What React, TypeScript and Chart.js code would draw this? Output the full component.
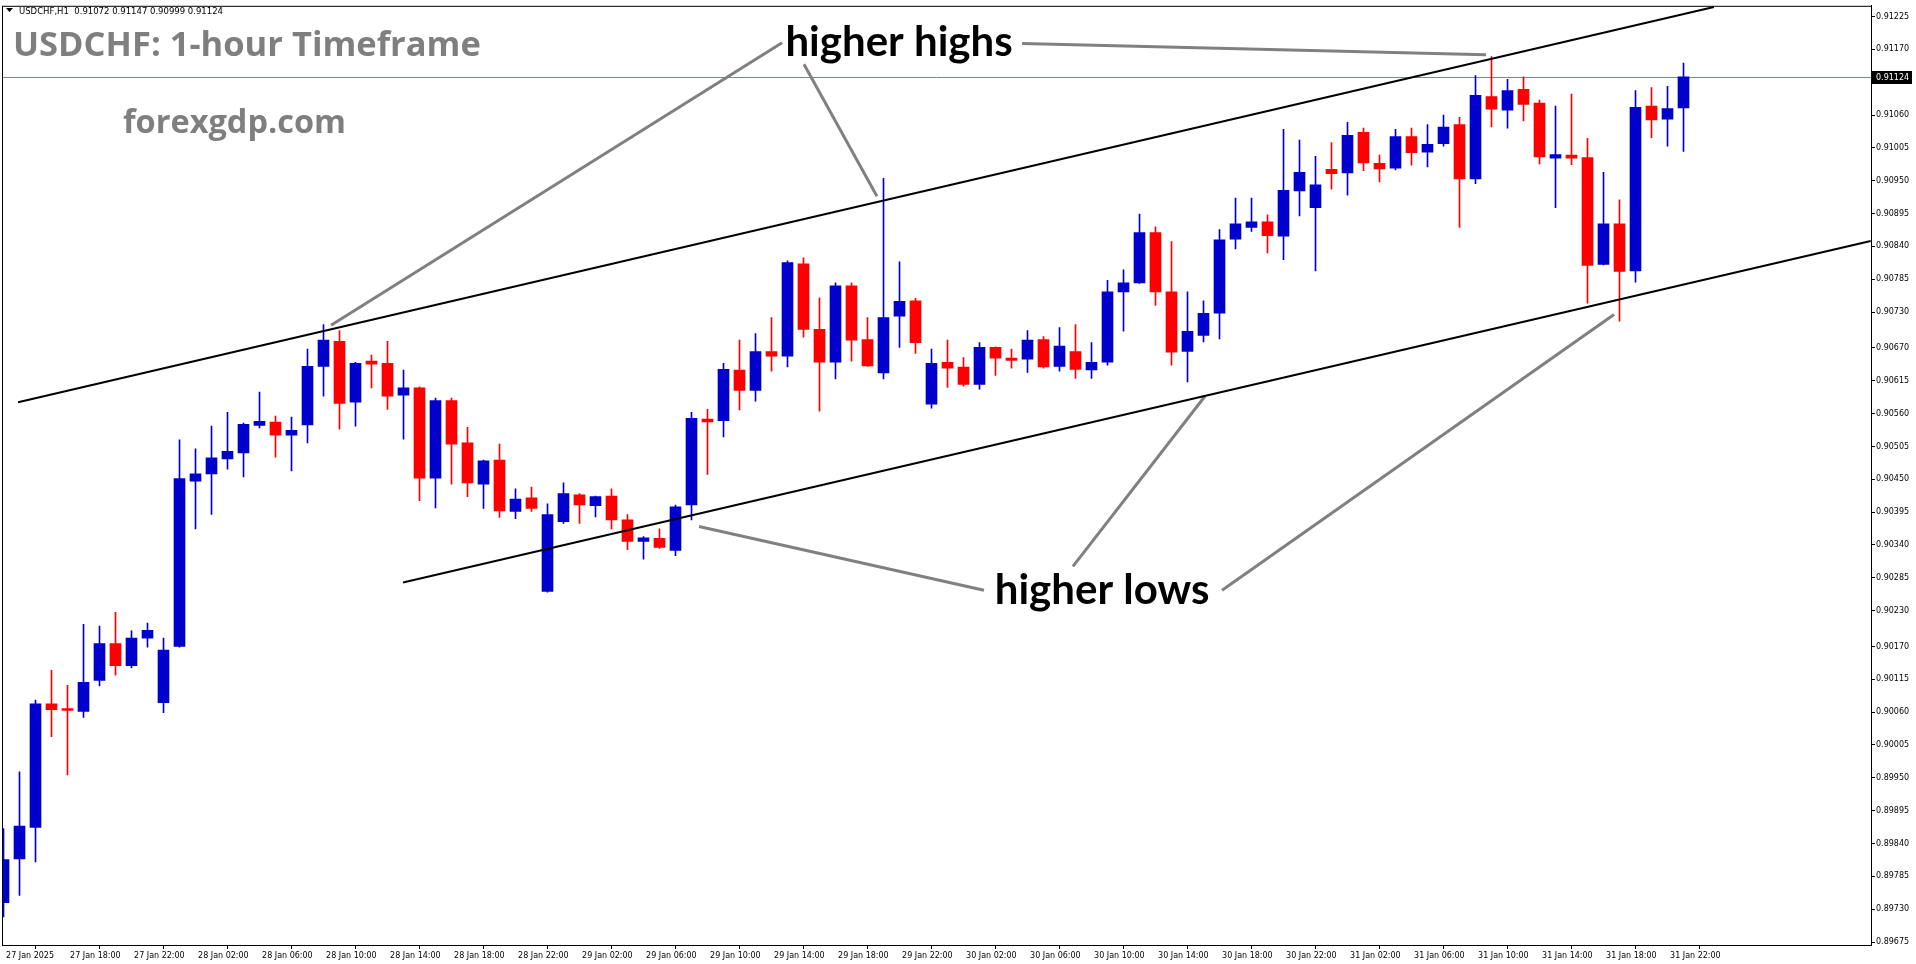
import React, { useEffect, useRef } from "react";
import { Chart, registerables } from "chart.js";

Chart.register(...registerables);

// USDCHF H1 candles, 27 Jan 2025 14:00 -> 31 Jan 2025 23:00 (index = hour offset)
const opens = [
  0.89741, 0.89814, 0.89867, 0.90074, 0.90066, 0.90061, 0.90113, 0.90175, 0.90138, 0.90184,
  0.90076, 0.90170, 0.90447, 0.90459, 0.90484, 0.90494, 0.90540, 0.90546, 0.90524, 0.90541,
  0.90639, 0.90681, 0.90579, 0.90648, 0.90644, 0.90591, 0.90603, 0.90452, 0.90582, 0.90511,
  0.90442, 0.90482, 0.90396, 0.90419, 0.90262, 0.90379, 0.90424, 0.90406, 0.90422, 0.90382,
  0.90346, 0.90351, 0.90331, 0.90407, 0.90551, 0.90548, 0.90633, 0.90599, 0.90664, 0.90656,
  0.90811, 0.90701, 0.90646, 0.90774, 0.90684, 0.90628, 0.90723, 0.90749, 0.90576, 0.90646,
  0.90638, 0.90609, 0.90671, 0.90653, 0.90651, 0.90684, 0.90639, 0.90664, 0.90633, 0.90646,
  0.90764, 0.90779, 0.90863, 0.90764, 0.90664, 0.90691, 0.90728, 0.90852, 0.90872, 0.90881,
  0.90857, 0.90933, 0.90905, 0.90969, 0.90963, 0.91031, 0.90979, 0.90971, 0.91024, 0.90998,
  0.91012, 0.91044, 0.90953, 0.91091, 0.91068, 0.91103, 0.91080, 0.90988, 0.90993, 0.90989,
  0.90810, 0.90878, 0.90799, 0.91075, 0.91053, 0.91072,
];
const highs = [
  0.89865, 0.89960, 0.90080, 0.90130, 0.90105, 0.90207, 0.90204, 0.90227, 0.90196, 0.90209,
  0.90184, 0.90516, 0.90501, 0.90539, 0.90562, 0.90544, 0.90596, 0.90556, 0.90554, 0.90668,
  0.90709, 0.90699, 0.90646, 0.90658, 0.90681, 0.90633, 0.90605, 0.90586, 0.90586, 0.90537,
  0.90482, 0.90509, 0.90434, 0.90437, 0.90409, 0.90444, 0.90426, 0.90422, 0.90434, 0.90391,
  0.90354, 0.90367, 0.90407, 0.90562, 0.90567, 0.90644, 0.90683, 0.90694, 0.90721, 0.90816,
  0.90821, 0.90754, 0.90779, 0.90779, 0.90721, 0.90954, 0.90814, 0.90753, 0.90668, 0.90683,
  0.90654, 0.90679, 0.90672, 0.90668, 0.90699, 0.90689, 0.90704, 0.90709, 0.90679, 0.90783,
  0.90801, 0.90894, 0.90873, 0.90848, 0.90764, 0.90749, 0.90868, 0.90921, 0.90921, 0.90893,
  0.91036, 0.91018, 0.90991, 0.91014, 0.91048, 0.91038, 0.90993, 0.91036, 0.91038, 0.91044,
  0.91060, 0.91056, 0.91126, 0.91158, 0.91120, 0.91124, 0.91085, 0.91075, 0.91095, 0.91021,
  0.90964, 0.90918, 0.91101, 0.91106, 0.91108, 0.91147,
];
const lows = [
  0.89717, 0.89753, 0.89809, 0.90019, 0.89955, 0.90051, 0.90104, 0.90122, 0.90134, 0.90169,
  0.90059, 0.90169, 0.90367, 0.90391, 0.90467, 0.90454, 0.90536, 0.90487, 0.90464, 0.90511,
  0.90589, 0.90534, 0.90539, 0.90603, 0.90567, 0.90517, 0.90414, 0.90402, 0.90442, 0.90421,
  0.90401, 0.90386, 0.90384, 0.90396, 0.90261, 0.90376, 0.90376, 0.90387, 0.90367, 0.90332,
  0.90316, 0.90334, 0.90322, 0.90382, 0.90458, 0.90521, 0.90566, 0.90581, 0.90631, 0.90638,
  0.90688, 0.90564, 0.90618, 0.90648, 0.90639, 0.90618, 0.90671, 0.90661, 0.90569, 0.90604,
  0.90606, 0.90601, 0.90624, 0.90636, 0.90629, 0.90636, 0.90631, 0.90619, 0.90619, 0.90641,
  0.90698, 0.90778, 0.90741, 0.90641, 0.90613, 0.90680, 0.90685, 0.90836, 0.90865, 0.90829,
  0.90818, 0.90891, 0.90799, 0.90936, 0.90926, 0.90967, 0.90948, 0.90968, 0.90976, 0.90973,
  0.91008, 0.90872, 0.90945, 0.91040, 0.91038, 0.91050, 0.90978, 0.90905, 0.90977, 0.90745,
  0.90809, 0.90715, 0.90780, 0.91022, 0.91008, 0.90999,
];
const closes = [
  0.89813, 0.89869, 0.90074, 0.90064, 0.90063, 0.90110, 0.90175, 0.90138, 0.90184, 0.90197,
  0.90164, 0.90451, 0.90459, 0.90486, 0.90497, 0.90542, 0.90547, 0.90524, 0.90532, 0.90639,
  0.90683, 0.90577, 0.90644, 0.90643, 0.90589, 0.90603, 0.90452, 0.90582, 0.90509, 0.90444,
  0.90481, 0.90397, 0.90417, 0.90401, 0.90391, 0.90426, 0.90407, 0.90421, 0.90382, 0.90346,
  0.90352, 0.90336, 0.90404, 0.90552, 0.90546, 0.90634, 0.90599, 0.90664, 0.90656, 0.90813,
  0.90701, 0.90646, 0.90774, 0.90683, 0.90640, 0.90721, 0.90748, 0.90679, 0.90644, 0.90636,
  0.90609, 0.90671, 0.90653, 0.90649, 0.90683, 0.90638, 0.90673, 0.90634, 0.90646, 0.90764,
  0.90779, 0.90863, 0.90764, 0.90663, 0.90698, 0.90728, 0.90851, 0.90878, 0.90881, 0.90858,
  0.90934, 0.90964, 0.90943, 0.90962, 0.91026, 0.90980, 0.90970, 0.91024, 0.90997, 0.91011,
  0.91040, 0.90953, 0.91093, 0.91070, 0.91101, 0.91078, 0.90990, 0.90994, 0.90988, 0.90808,
  0.90878, 0.90798, 0.91073, 0.91052, 0.91071, 0.91124,
];

// time-axis labels (bar index -> label)
const timeTickIndex = [0, 4, 8, 12, 16, 20, 24, 28, 32, 36, 40, 44, 48, 52, 56, 60, 64, 68, 72, 76, 80, 84, 88, 92, 96, 100, 104];
const timeTickLabels = [
  "27 Jan 2025", "27 Jan 18:00", "27 Jan 22:00", "28 Jan 02:00", "28 Jan 06:00", "28 Jan 10:00",
  "28 Jan 14:00", "28 Jan 18:00", "28 Jan 22:00", "29 Jan 02:00", "29 Jan 06:00", "29 Jan 10:00",
  "29 Jan 14:00", "29 Jan 18:00", "29 Jan 22:00", "30 Jan 02:00", "30 Jan 06:00", "30 Jan 10:00",
  "30 Jan 14:00", "30 Jan 18:00", "30 Jan 22:00", "31 Jan 02:00", "31 Jan 06:00", "31 Jan 10:00",
  "31 Jan 14:00", "31 Jan 18:00", "31 Jan 22:00",
];

// price-axis labels
const priceTicks = [
  0.91225, 0.9117, 0.91115, 0.9106, 0.91005, 0.9095, 0.90895, 0.9084, 0.90785, 0.9073,
  0.9067, 0.90615, 0.9056, 0.90505, 0.9045, 0.90395, 0.9034, 0.90285, 0.9023, 0.9017,
  0.90115, 0.9006, 0.90005, 0.8995, 0.89895, 0.8984, 0.89785, 0.8973, 0.89675,
];
const lastPrice = 0.91124;
const headerText = "USDCHF,H1  0.91072 0.91147 0.90999 0.91124";

// channel lines [barIndex, price]
const upperChannel = [[0.91, 0.90579], [106.9, 0.91241]];
const lowerChannel = [[24.97, 0.90277], [116.7, 0.90849]];
// annotation pointer lines [barIndex, price]
const pointerLines = [
  [[48.66, 0.91181], [20.47, 0.90708]],
  [[50.03, 0.91145], [54.59, 0.90924]],
  [[63.66, 0.91180], [92.66, 0.91161]],
  [[61.28, 0.90264], [43.47, 0.90371]],
  [[66.84, 0.90304], [75.09, 0.90589]],
  [[76.16, 0.90264], [100.66, 0.90726]],
];
const notes = [
  { text: "higher highs", bar: 55.97, price: 0.91181 },
  { text: "higher lows", bar: 68.66, price: 0.90264 },
];

const X_MIN = -0.09375;
const X_MAX = X_MIN + 1869 / 16;
const Y_MIN = 0.8967;
const Y_MAX = 0.91243;

const BLUE = "#0000cd";
const RED = "#ff0000";
const AXIS_FONT = { family: "'DejaVu Sans'", size: 8 };

export default function App() {
  const ref = useRef<HTMLCanvasElement | null>(null);

  useEffect(() => {
    const canvas = ref.current;
    if (!canvas) return;
    const idx = opens.map((_, i) => i);
    const colors = idx.map((i) => (closes[i] >= opens[i] ? BLUE : RED));

    const lineDs = (pts: number[][], color: string, width: number) => ({
      type: "line" as const,
      data: pts.map((p) => ({ x: p[0], y: p[1] })),
      borderColor: color,
      borderWidth: width,
      pointRadius: 0,
      fill: false,
      tension: 0,
      order: 0,
    });

    const overlay = {
      id: "overlay",
      beforeDatasetsDraw(chart: any) {
        const { ctx, chartArea, scales } = chart;
        const y = Math.round(scales.y.getPixelForValue(lastPrice)) + 0.5;
        ctx.save();
        ctx.strokeStyle = "#778899";
        ctx.lineWidth = 1;
        ctx.beginPath();
        ctx.moveTo(chartArea.left, y);
        ctx.lineTo(chartArea.right, y);
        ctx.stroke();
        ctx.restore();
      },
      afterDatasetsDraw(chart: any) {
        const { ctx, scales } = chart;
        ctx.save();
        ctx.fillStyle = "#000";
        ctx.font = "bold 42px Lato";
        ctx.textAlign = "center";
        ctx.textBaseline = "middle";
        notes.forEach((n) => {
          ctx.fillText(n.text, scales.x.getPixelForValue(n.bar), scales.y.getPixelForValue(n.price));
        });
        ctx.restore();
      },
      afterDraw(chart: any) {
        const { ctx, chartArea, scales } = chart;
        ctx.save();
        // frame
        ctx.strokeStyle = "#000";
        ctx.lineWidth = 1;
        ctx.strokeRect(chartArea.left + 0.5, chartArea.top + 0.5, chartArea.right - chartArea.left, chartArea.bottom - chartArea.top);
        // header
        ctx.fillStyle = "#000";
        ctx.beginPath();
        ctx.moveTo(6, 8);
        ctx.lineTo(13, 8);
        ctx.lineTo(9.5, 12);
        ctx.closePath();
        ctx.fill();
        ctx.font = "8.5px 'DejaVu Sans'";
        ctx.textBaseline = "alphabetic";
        ctx.fillText(headerText, 19, 14);
        // titles
        ctx.fillStyle = "#7f7f7f";
        ctx.font = "bold 34.5px 'Open Sans'";
        ctx.fillText("USDCHF: 1-hour Timeframe", 13, 56);
        ctx.font = "bold 32.5px 'Open Sans'";
        ctx.fillText("forexgdp.com", 123, 133);
        // last price box
        const y = Math.round(scales.y.getPixelForValue(lastPrice));
        ctx.fillStyle = "#000";
        ctx.fillRect(chartArea.right + 1, y - 6, 40, 13);
        ctx.fillStyle = "#fff";
        ctx.font = "8px 'DejaVu Sans'";
        ctx.textBaseline = "middle";
        ctx.fillText(lastPrice.toFixed(5), chartArea.right + 5, y + 1);
        ctx.restore();
      },
    };

    const chart = new Chart(canvas, {
      type: "bar",
      data: {
        datasets: [
          lineDs(upperChannel, "#000", 2),
          lineDs(lowerChannel, "#000", 2),
          ...pointerLines.map((p) => lineDs(p, "#808080", 3)),
          {
            type: "bar" as const,
            data: idx.map((i) => ({ x: i, y: [Math.min(opens[i], closes[i]), Math.max(opens[i], closes[i])] })) as any,
            backgroundColor: colors,
            borderWidth: 0,
            barThickness: 11,
            grouped: false,
            minBarLength: 1,
            order: 1,
          },
          {
            type: "bar" as const,
            data: idx.map((i) => ({ x: i, y: [lows[i], highs[i]] })) as any,
            backgroundColor: colors,
            borderWidth: 0,
            barThickness: 1,
            grouped: false,
            order: 2,
          },
        ] as any,
      },
      options: {
        responsive: false,
        animation: false,
        events: [],
        layout: { padding: { left: 2, top: 2, right: 0, bottom: 0 } },
        plugins: { legend: { display: false }, tooltip: { enabled: false } },
        scales: {
          x: {
            type: "linear",
            min: X_MIN,
            max: X_MAX,
            offset: false,
            grid: { display: true, drawOnChartArea: false, drawTicks: true, tickLength: 4, color: "#000" },
            border: { display: true, color: "#000" },
            afterBuildTicks: (s: any) => {
              s.ticks = timeTickIndex.map((v) => ({ value: v }));
            },
            afterFit: (s: any) => {
              s.height = 19;
            },
            ticks: {
              autoSkip: false,
              maxRotation: 0,
              align: "start",
              padding: 2,
              color: "#000",
              font: AXIS_FONT,
              callback: (v: any) => " " + timeTickLabels[timeTickIndex.indexOf(Number(v))],
            },
          },
          y: {
            type: "linear",
            position: "right",
            min: Y_MIN,
            max: Y_MAX,
            grid: { display: true, drawOnChartArea: false, drawTicks: true, tickLength: 4, color: "#000" },
            border: { display: true, color: "#000" },
            afterBuildTicks: (s: any) => {
              s.ticks = priceTicks.map((v) => ({ value: v }));
            },
            afterFit: (s: any) => {
              s.width = 45;
            },
            ticks: {
              autoSkip: false,
              padding: 1,
              color: "#000",
              font: AXIS_FONT,
              callback: (v: any) => Number(v).toFixed(5),
            },
          },
        },
      } as any,
      plugins: [overlay],
    });
    return () => chart.destroy();
  }, []);

  return (
    <div style={{ position: "fixed", left: 0, top: 0, width: 1916, height: 964, background: "#fff" }}>
      <canvas ref={ref} width={1916} height={964} style={{ width: 1916, height: 964, display: "block" }} />
    </div>
  );
}
